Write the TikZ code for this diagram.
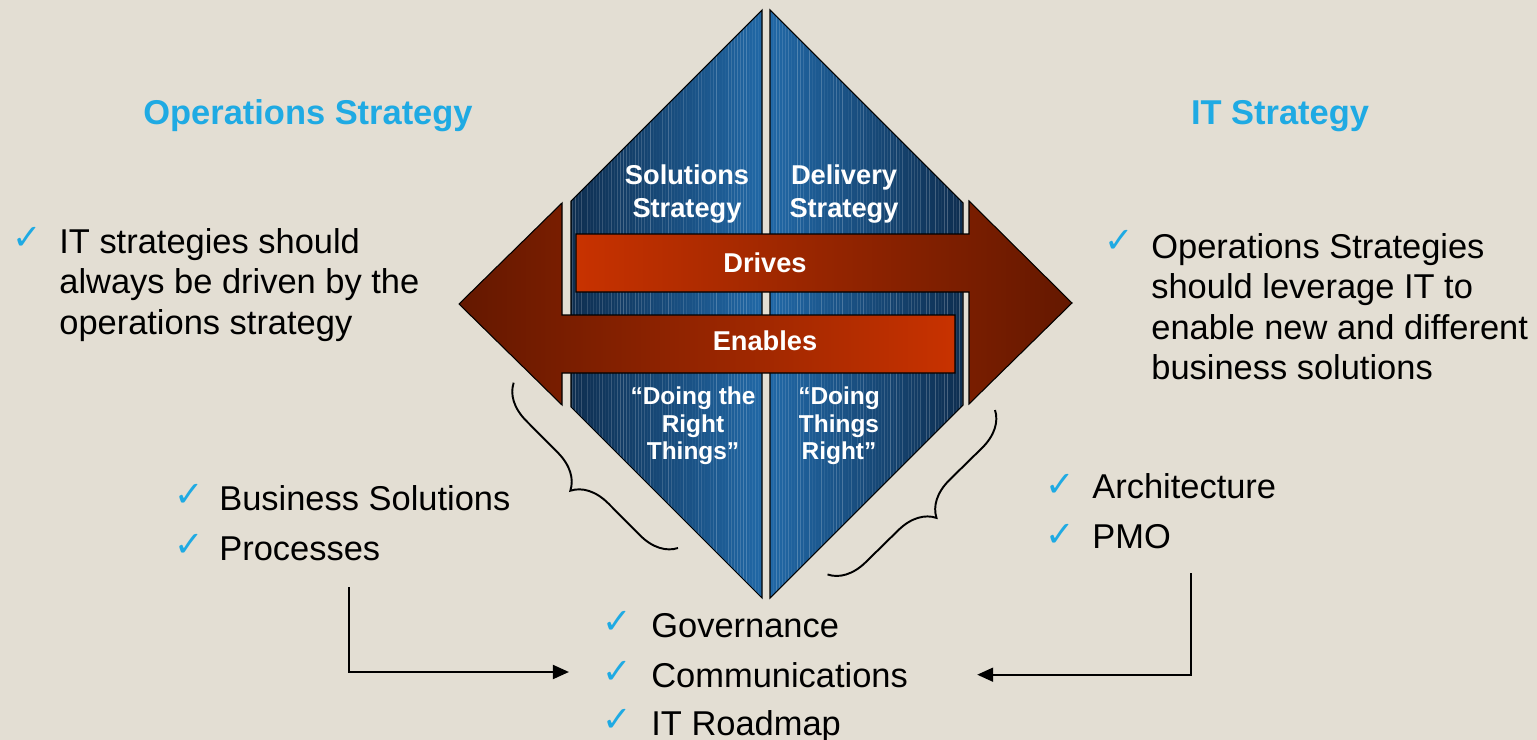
\documentclass[tikz,border=0pt]{standalone}
\usepackage{fontspec}
\setmainfont{Liberation Sans}
\newfontfamily\symfont{DejaVu Sans}
\usetikzlibrary{arrows.meta,decorations.pathreplacing}

\definecolor{paper}{RGB}{227,222,211}
\definecolor{skyblue}{RGB}{31,170,227}
\definecolor{navy}{RGB}{14,46,80}
\definecolor{steel}{RGB}{33,104,166}
\definecolor{rust}{RGB}{200,50,0}
\definecolor{darkrust}{RGB}{100,24,0}

\newcommand\bigtext{\fontsize{19.6}{23}\selectfont}
\newcommand\midtext{\fontsize{15.5}{19.3}\selectfont\bfseries}
\newcommand\smalltext{\fontsize{13.9}{15.6}\selectfont\bfseries}

\begin{document}
\begin{tikzpicture}[x=0.2mm, y=-0.2mm,
  heading/.style={text=skyblue, font=\bigtext\bfseries, anchor=base, inner sep=0pt},
  body/.style={font=\bigtext, align=left, anchor=north west, inner sep=0pt},
  item/.style={font=\bigtext, anchor=base west, inner sep=0pt},
  tick/.style={text=skyblue, font=\symfont\fontsize{20}{20}\selectfont, inner sep=0pt},
  panel/.style={draw=black, line width=0.6pt},
  inlabel/.style={text=white, font=\midtext, align=center},
  quote/.style={text=white, font=\smalltext, align=center},
  curly/.style={decorate, decoration={brace, amplitude=7.2mm}, line width=1.1pt},
  feed/.style={-{Triangle[length=3.2mm,width=2.8mm]}, line width=1.1pt}]

\fill[paper] (0,0) rectangle (1537,740);
\useasboundingbox (0,0) rectangle (1537,740);

% the two halves of the diamond
\shade[left color=navy, right color=steel]
  (762,10) -- (571,201) -- (571,407) -- (762,598) -- cycle;
\shade[left color=steel, right color=navy]
  (770,10) -- (963,203) -- (963,405) -- (770,598) -- cycle;
% fine light streaks on the blue
\begin{scope}
  \clip (762,10) -- (571,201) -- (571,407) -- (762,598) -- cycle
        (770,10) -- (963,203) -- (963,405) -- (770,598) -- cycle;
  \pgfmathsetseed{11}
  \foreach \sx [evaluate=\sx as \op using {0.25*rnd}] in {572,575,...,962}
    \draw[white, opacity=\op, line width=0.4pt] (\sx,0) -- (\sx,600);
\end{scope}
\draw[panel] (762,10) -- (571,201) -- (571,407) -- (762,598) -- cycle;
\draw[panel] (770,10) -- (963,203) -- (963,405) -- (770,598) -- cycle;

% drives / enables arrows
\draw[panel, left color=rust, right color=darkrust]
  (576,234) -- (969,234) -- (969,201) -- (1072,303) -- (969,404)
  -- (969,292) -- (576,292) -- cycle;
\draw[panel, left color=darkrust, right color=rust]
  (459,304) -- (562,203) -- (562,315) -- (955,315) -- (955,373)
  -- (562,373) -- (562,405) -- cycle;

\node[inlabel] (sol) at (687,194) {Solutions\\Strategy};
\node[inlabel] (del) at (844,194) {Delivery\\Strategy};
\node[inlabel] (drives) at (765,263) {Drives};
\node[inlabel] (enables) at (765,341) {Enables};
\node[quote] (rightthings) at (693,426) {“Doing the\\Right\\Things”};
\node[quote] (thingsright) at (839,426) {“Doing\\Things\\Right”};

% headings
\node[heading] (opshead) at (308,125) {Operations Strategy};
\node[heading] (ithead) at (1280,125) {IT Strategy};

% notes on both sides
\node[tick] (opstick) at (27,238) {✓};
\node[body] (opsnote) at (59,228)
  {IT strategies should\\always be driven by the\\operations strategy};
\node[tick] (ittick) at (1119,241) {✓};
\node[body] (itnote) at (1151,233)
  {Operations Strategies\\should leverage IT to\\enable new and different\\business solutions};

% lists
\node[tick] (bustick) at (189,495) {✓};
\node[item] (bus) at (219,510) {Business Solutions};
\node[tick] (proctick) at (189,545) {✓};
\node[item] (proc) at (219,560) {Processes};

\node[tick] (archtick) at (1060,485) {✓};
\node[item] (arch) at (1092,498) {Architecture};
\node[tick] (pmotick) at (1060,535) {✓};
\node[item] (pmo) at (1092,548) {PMO};

\node[tick] (govtick) at (617,622) {✓};
\node[item] (gov) at (651,637) {Governance};
\node[tick] (commtick) at (617,672) {✓};
\node[item] (comm) at (651,687) {Communications};
\node[tick] (maptick) at (617,720) {✓};
\node[item] (map) at (651,735) {IT Roadmap};

% braces
\coordinate (lbrace1) at (678,548);
\coordinate (lbrace2) at (513,382);
\coordinate (rbrace1) at (995,410);
\coordinate (rbrace2) at (827,575);
\draw[curly] (lbrace1) -- (lbrace2);
\draw[curly] (rbrace1) -- (rbrace2);

% feeds into the shared list
\coordinate (procfoot) at (349,587);
\coordinate (pmofoot) at (1191,573);
\draw[feed] (procfoot) |- ([xshift=-6.6mm]commtick.west);
\draw[feed] (pmofoot) |- ([xshift=13.8mm]comm.east);
\end{tikzpicture}
\end{document}
